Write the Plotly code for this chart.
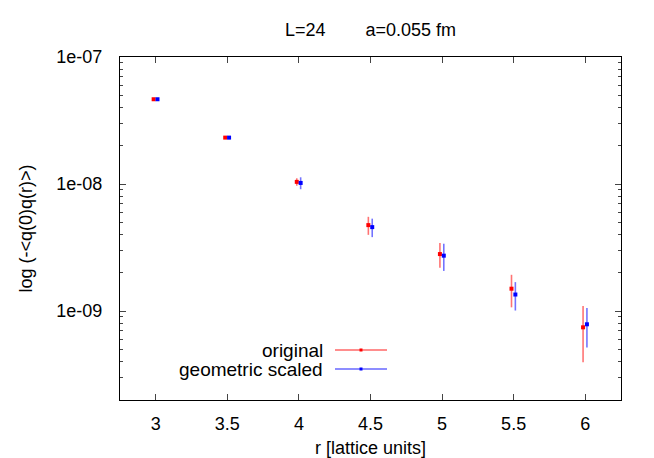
import plotly.graph_objects as go

# separation r (lattice units) and correlator values
r = [3.0, 3.5, 4.0, 4.5, 5.0, 5.5, 6.0]

orig_y = [4.65e-8, 2.32e-8, 1.04e-8, 4.75e-9, 2.81e-9, 1.50e-9, 7.45e-10]
orig_err = [0.06e-8, 0.05e-8, 0.07e-8, 0.77e-9, 0.62e-9, 0.43e-9, 0.35e-9]

geom_y = [4.65e-8, 2.32e-8, 1.02e-8, 4.58e-9, 2.73e-9, 1.35e-9, 7.87e-10]
geom_err = [0.08e-8, 0.07e-8, 0.11e-8, 0.76e-9, 0.66e-9, 0.34e-9, 0.27e-9]

ytick_vals = [1e-9, 1e-8, 1e-7]
ytick_text = ["1e-09", "1e-08", "1e-07"]
# minor ticks 2..9 in each decade
yminor_vals = [m * d for d in [1e-10, 1e-9, 1e-8] for m in range(2, 10)]

FONT = "Liberation Sans, Arial, sans-serif"

# the page body adds an 8px margin, so the figure is 8px smaller than the window
W, H = 646, 450
ML, MR, MT, MB = 112, 33, 49, 58
PW, PH = W - ML - MR, H - MT - MB

fig = go.Figure()

# small horizontal shift so both series stay visible
fig.add_trace(go.Scatter(
    x=[v - 0.015 for v in r], y=orig_y,
    mode="markers", name="original",
    marker=dict(color="red", size=4, symbol="square"),
    error_y=dict(type="data", array=orig_err, color="rgba(255,0,0,0.55)", thickness=1.6, width=0),
    showlegend=False,
))
fig.add_trace(go.Scatter(
    x=[v + 0.012 for v in r], y=geom_y,
    mode="markers", name="geometric scaled",
    marker=dict(color="blue", size=4, symbol="square"),
    error_y=dict(type="data", array=geom_err, color="rgba(0,0,255,0.55)", thickness=1.6, width=0),
    showlegend=False,
))

# gnuplot-style key: text right aligned, sample line on the right (offsets in px from plot corner)
legend = [("original", "red", "rgba(255,0,0,0.6)", 293), ("geometric scaled", "blue", "rgba(0,0,255,0.6)", 312)]
for label, c, lc, py in legend:
    yp = 1 - py / PH
    fig.add_annotation(text=label, xref="paper", yref="paper", x=205 / PW, y=yp,
                       xanchor="right", yanchor="middle", showarrow=False,
                       font=dict(size=19, color="black", family=FONT))
    fig.add_shape(type="line", xref="paper", yref="paper",
                  x0=215 / PW, x1=267 / PW, y0=yp, y1=yp,
                  line=dict(color=lc, width=1.6))
    fig.add_shape(type="rect", xref="paper", yref="paper",
                  x0=239.5 / PW, x1=242.5 / PW,
                  y0=yp - 1.5 / PH, y1=yp + 1.5 / PH,
                  line=dict(width=0), fillcolor=c)

fig.add_annotation(text="L=24" + "\u00a0" * 8 + "a=0.055 fm", xref="paper", yref="paper",
                   x=0.5, y=1 + 27 / PH, xanchor="center", yanchor="middle", showarrow=False,
                   font=dict(size=18, color="black", family=FONT))

fig.update_layout(
    width=W, height=H,
    margin=dict(l=ML, r=MR, t=MT, b=MB),
    paper_bgcolor="white", plot_bgcolor="white",
    font=dict(family=FONT, size=18, color="black"),
    xaxis=dict(
        range=[2.75, 6.25], tickvals=r, ticktext=["3", "3.5", "4", "4.5", "5", "5.5", "6"],
        ticks="inside", ticklen=6, tickcolor="#444", showline=True, linecolor="black", linewidth=1,
        mirror="allticks", showgrid=False, zeroline=False, automargin=False,
        ticklabelstandoff=7,
        title=dict(text="r [lattice units]", standoff=9, font=dict(size=18)),
    ),
    yaxis=dict(
        type="log", range=[-9.7, -7], tickvals=ytick_vals, ticktext=ytick_text,
        ticks="inside", ticklen=6, tickcolor="#444", showline=True, linecolor="black", linewidth=1,
        mirror="allticks", showgrid=False, zeroline=False, automargin=False,
        ticklabelstandoff=13,
        minor=dict(tickvals=yminor_vals, ticks="inside", ticklen=3, tickcolor="#444", showgrid=False),
        title=dict(text="log (-<q(0)q(r)>)", standoff=19, font=dict(size=18)),
    ),
)

fig.write_html("out.html")
